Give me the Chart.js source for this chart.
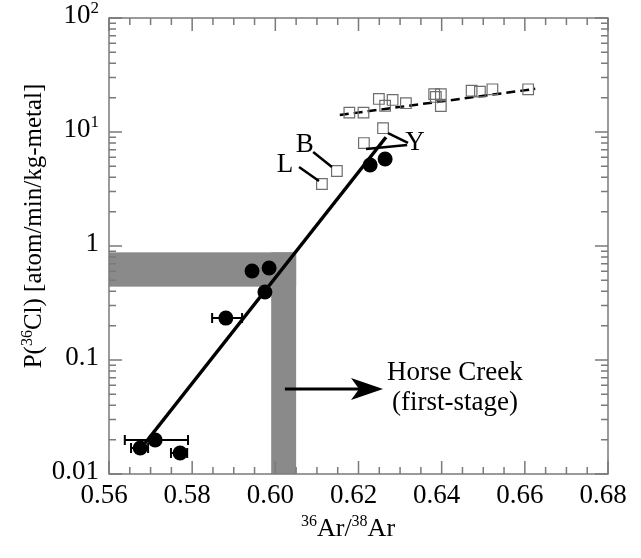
<!DOCTYPE html>
<html>
<head>
<meta charset="utf-8">
<script src="https://cdn.jsdelivr.net/npm/chart.js@4.4.1/dist/chart.umd.min.js"></script>
<style>
  html,body{margin:0;padding:0;background:#fff}
  canvas{display:block}
</style>
</head>
<body>
<canvas id="chart" width="641" height="558"></canvas>
<script>
/* 36Cl production rate vs 36Ar/38Ar — Chart.js rebuild */
const FONT = '"Liberation Serif","DejaVu Serif",serif';

// filled circles, with horizontal error bars where shown
const circX   = [0.5675, 0.5711, 0.5771, 0.5881, 0.5944, 0.5985, 0.5975, 0.6228, 0.6264];
const circY   = [0.0169, 0.0199, 0.0153, 0.233, 0.604, 0.641, 0.395, 5.14, 5.80];
const circXLo = [0.5653, 0.5638, 0.5749, 0.5848, null, null, null, null, null];
const circXHi = [0.5694, 0.5790, 0.5788, 0.5920, null, null, null, null, null];

// open squares
const sqX = [0.6112, 0.6148, 0.6213, 0.6259, 0.6178, 0.6212, 0.6249, 0.6264, 0.6282,
             0.6314, 0.6382, 0.6398, 0.6386, 0.6398, 0.6472, 0.6492, 0.6522, 0.6608];
const sqY = [3.50, 4.55, 8.0, 10.8, 14.8, 14.8, 19.5, 17.0, 19.1,
             17.9, 21.5, 21.5, 20.3, 16.9, 23.0, 22.6, 23.7, 23.7];

// regression lines
const fitX   = [0.5687, 0.6266];
const fitY   = [0.0187, 9.0];
const trendX = [0.6155, 0.6625];
const trendY = [14.1, 23.9];

// shaded band (Horse Creek)
const bandX = [0.599, 0.605];
const bandY = [0.44, 0.88];

// ticks
const xTicks      = [0.56, 0.58, 0.60, 0.62, 0.64, 0.66, 0.68];
const xTickLabels = ['0.56', '0.58', '0.60', '0.62', '0.64', '0.66', '0.68'];
const yTicks      = [0.01, 0.1, 1, 10, 100];
const yTickBase   = ['0.01', '0.1', '1', '10', '10'];
const yTickExp    = ['', '', '', '1', '2'];

// point labels with leader lines [text, x, y, [x0,y0,x1,y1]...]
const tags = [
  ['L', 0.6023, 5.13, [[0.6057, 4.93, 0.6105, 3.72]]],
  ['B', 0.6071, 7.69, [[0.6091, 6.68, 0.6136, 4.93]]],
  ['Y', 0.6336, 8.01, [[0.6271, 9.79, 0.6319, 8.01], [0.6218, 7.10, 0.6317, 7.69]]]
];

const pts = (xs, ys) => xs.map((x, i) => ({x, y: ys[i]}));

function rich(ctx, parts, x, y, size, align){
  const sub = Math.round(size * 0.62);
  let w = 0;
  parts.forEach(p => { ctx.font = (p.sup ? sub : size) + 'px ' + FONT; w += ctx.measureText(p.t).width; });
  let cx = align === 'right' ? x - w : align === 'center' ? x - w / 2 : x;
  ctx.textAlign = 'left';
  parts.forEach(p => {
    ctx.font = (p.sup ? sub : size) + 'px ' + FONT;
    ctx.fillText(p.t, cx, p.sup ? y - size * 0.38 : y);
    cx += ctx.measureText(p.t).width;
  });
}

const deco = {
  id: 'deco',
  beforeDatasetsDraw(chart){
    const {ctx, chartArea: a, scales: {x, y}} = chart;
    ctx.save();
    ctx.fillStyle = '#8a8a8a';
    const yTop = y.getPixelForValue(bandY[1]);
    ctx.fillRect(a.left, yTop, x.getPixelForValue(bandX[1]) - a.left, y.getPixelForValue(bandY[0]) - yTop);
    ctx.fillRect(x.getPixelForValue(bandX[0]), yTop, x.getPixelForValue(bandX[1]) - x.getPixelForValue(bandX[0]), a.bottom - yTop);
    ctx.restore();
  },
  afterDatasetsDraw(chart){
    const {ctx, scales: {x, y}} = chart;
    ctx.save();
    ctx.strokeStyle = '#000';
    ctx.fillStyle = '#000';
    // error bars
    ctx.lineWidth = 2;
    circX.forEach((v, i) => {
      if (circXLo[i] == null) return;
      const py = y.getPixelForValue(circY[i]);
      const x0 = x.getPixelForValue(circXLo[i]), x1 = x.getPixelForValue(circXHi[i]);
      ctx.beginPath();
      ctx.moveTo(x0, py); ctx.lineTo(x1, py);
      ctx.moveTo(x0, py - 5); ctx.lineTo(x0, py + 5);
      ctx.moveTo(x1, py - 5); ctx.lineTo(x1, py + 5);
      ctx.stroke();
    });
    // point tags
    ctx.font = '27px ' + FONT;
    ctx.textAlign = 'center';
    ctx.textBaseline = 'middle';
    ctx.lineWidth = 2.5;
    tags.forEach(([t, tx, ty, lines]) => {
      ctx.fillText(t, x.getPixelForValue(tx), y.getPixelForValue(ty));
      lines.forEach(l => {
        ctx.beginPath();
        ctx.moveTo(x.getPixelForValue(l[0]), y.getPixelForValue(l[1]));
        ctx.lineTo(x.getPixelForValue(l[2]), y.getPixelForValue(l[3]));
        ctx.stroke();
      });
    });
    // arrow + Horse Creek note
    const ay = y.getPixelForValue(0.0557);
    const ax0 = x.getPixelForValue(0.6023), ax1 = x.getPixelForValue(0.6259);
    ctx.lineWidth = 3;
    ctx.beginPath(); ctx.moveTo(ax0, ay); ctx.lineTo(ax1 - 20, ay); ctx.stroke();
    ctx.beginPath();
    ctx.moveTo(ax1, ay);
    ctx.lineTo(ax1 - 32, ay - 11);
    ctx.lineTo(ax1 - 24, ay);
    ctx.lineTo(ax1 - 32, ay + 11);
    ctx.closePath(); ctx.fill();
    ctx.font = '27px ' + FONT;
    ctx.fillText('Horse Creek', x.getPixelForValue(0.6432), y.getPixelForValue(0.0769));
    ctx.fillText('(first-stage)', x.getPixelForValue(0.6432), y.getPixelForValue(0.0420));
    ctx.restore();
  },
  afterDraw(chart){
    const {ctx, chartArea: a, scales: {x, y}} = chart;
    ctx.save();
    ctx.strokeStyle = '#7a7a7a';
    ctx.lineWidth = 1.5;
    ctx.strokeRect(a.left, a.top, a.right - a.left, a.bottom - a.top);
    ctx.beginPath();
    // x ticks (bottom + top, inward)
    for (let k = 0; k <= 24; k++){
      const v = 0.56 + k * 0.005, px = x.getPixelForValue(v), len = k % 4 ? 7 : 13;
      ctx.moveTo(px, a.bottom); ctx.lineTo(px, a.bottom - len);
      ctx.moveTo(px, a.top); ctx.lineTo(px, a.top + len);
    }
    // y ticks (left + right, inward)
    for (let d = -2; d <= 1; d++){
      for (let m = 1; m <= 10; m++){
        const py = y.getPixelForValue(m * Math.pow(10, d)), len = (m === 1 || m === 10) ? 13 : 7;
        ctx.moveTo(a.left, py); ctx.lineTo(a.left + len, py);
        ctx.moveTo(a.right, py); ctx.lineTo(a.right - len, py);
      }
    }
    ctx.stroke();
    // tick labels
    ctx.fillStyle = '#000';
    ctx.textBaseline = 'alphabetic';
    ctx.font = '27px ' + FONT;
    ctx.textAlign = 'center';
    xTicks.forEach((v, i) => ctx.fillText(xTickLabels[i], x.getPixelForValue(v) - 5, a.bottom + 29));
    yTicks.forEach((v, i) => {
      const parts = [{t: yTickBase[i]}];
      if (yTickExp[i]) parts.push({t: yTickExp[i], sup: true});
      rich(ctx, parts, a.left - 10, y.getPixelForValue(v) + 5, 27, 'right');
    });
    // axis titles
    rich(ctx, [{t: '36', sup: true}, {t: 'Ar/'}, {t: '38', sup: true}, {t: 'Ar'}], 348, 536, 26, 'center');
    ctx.translate(41, 226);
    ctx.rotate(-Math.PI / 2);
    rich(ctx, [{t: 'P('}, {t: '36', sup: true}, {t: 'Cl) [atom/min/kg-metal]'}], 0, 0, 25, 'center');
    ctx.restore();
  }
};

new Chart(document.getElementById('chart'), {
  type: 'scatter',
  data: {
    datasets: [
      { data: pts(circX, circY), pointStyle: 'circle', pointRadius: 7.5, backgroundColor: '#000', borderWidth: 0 },
      { data: pts(sqX, sqY), pointStyle: 'rect', pointRadius: 7.5, backgroundColor: 'rgba(0,0,0,0)', borderColor: '#6e6e6e', borderWidth: 1.2 },
      { type: 'line', data: pts(fitX, fitY), borderColor: '#000', borderWidth: 3.5, pointRadius: 0, fill: false },
      { type: 'line', data: pts(trendX, trendY), borderColor: '#000', borderWidth: 2.5, borderDash: [9, 5], pointRadius: 0, fill: false }
    ]
  },
  options: {
    responsive: false,
    animation: false,
    devicePixelRatio: 1,
    layout: { padding: { left: 109, top: 18, right: 33, bottom: 84 } },
    plugins: { legend: { display: false }, tooltip: { enabled: false } },
    scales: {
      x: { type: 'linear', min: 0.56, max: 0.68, display: false },
      y: { type: 'logarithmic', min: 0.01, max: 100, display: false }
    }
  },
  plugins: [deco]
});
</script>
</body>
</html>
